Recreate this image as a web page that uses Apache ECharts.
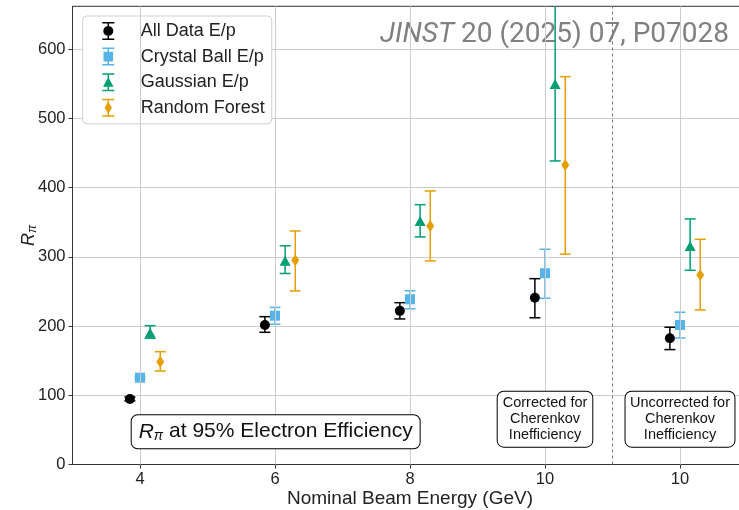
<!DOCTYPE html>
<html>
<head>
<meta charset="utf-8">
<script src="https://cdn.jsdelivr.net/npm/echarts@6/dist/echarts.min.js"></script>
<style>
  html, body { margin: 0; padding: 0; background: #fff; width: 739px; height: 510px; overflow: hidden; }
  #chart { width: 739px; height: 510px; overflow: hidden; position: relative; }
</style>
</head>
<body>
<div id="chart"></div>
<script>
// Beam energy groups (the last group is the 10 GeV run without the Cherenkov correction)
const groupPositions = [4, 6, 8, 10, 12];
const groupLabels = ['4', '6', '8', '10', '10'];

// Pion rejection R_pi at 95% electron efficiency: central value, lower and upper error-bar ends
const allDataVal = [94.7, 201.6, 222.0, 241.0, 182.4];
const allDataLo  = [92.0, 191.0, 210.3, 212.0, 166.0];
const allDataHi  = [97.5, 213.6, 233.8, 268.5, 198.3];

const crystalVal = [125.4, 215.0, 238.7, 276.3, 201.6];
const crystalLo  = [123.8, 202.6, 225.0, 240.2, 182.8];
const crystalHi  = [127.0, 227.0, 251.0, 311.0, 220.0];

const gaussVal = [190.5, 294.5, 351.9, 549.9, 315.8];
const gaussLo  = [182.4, 276.0, 328.8, 438.6, 280.6];
const gaussHi  = [200.6, 316.0, 375.4, 663.0, 354.8];

const forestVal = [148.6, 295.0, 344.7, 432.8, 273.8];
const forestLo  = [135.0, 250.7, 294.1, 304.0, 223.3];
const forestHi  = [163.0, 337.4, 395.2, 560.4, 325.4];

const yTicks = [0, 100, 200, 300, 400, 500, 600];

const methods = [
  { name: 'All Data E/p',       color: '#000000', symbol: 'circle',   size: 10,      offset: -0.15, val: allDataVal, lo: allDataLo, hi: allDataHi },
  { name: 'Crystal Ball E/p',   color: '#56B4E9', symbol: 'rect',     size: 10,      offset: 0.0,   val: crystalVal, lo: crystalLo, hi: crystalHi },
  { name: 'Gaussian E/p',       color: '#009E73', symbol: 'triangle', size: [11, 10], offset: 0.15, val: gaussVal,   lo: gaussLo,   hi: gaussHi },
  { name: 'Random Forest',      color: '#E69F00', symbol: 'diamond',  size: [8, 12],  offset: 0.3,  val: forestVal,  lo: forestLo,  hi: forestHi }
];

// Legend glyphs: error bar with caps plus the marker, all drawn clockwise
const barPath = 'M8.25 0 H9.75 V18 H8.25 Z M3 0 H15 V1.5 H3 Z M3 16.5 H15 V18 H3 Z ';
const legendIcons = [
  'path://' + barPath + 'M4 9 A5 5 0 1 1 14 9 A5 5 0 1 1 4 9 Z',
  'path://' + barPath + 'M4.2 4.2 H13.8 V13.8 H4.2 Z',
  'path://' + barPath + 'M9 3.8 L14.2 13.5 L3.8 13.5 Z',
  'path://' + barPath + 'M9 2.8 L12.6 9 L9 15.2 L5.4 9 Z'
];

const FONT = '"Liberation Sans", Arial, sans-serif';

function errorBarItem(color) {
  return function (params, api) {
    const x = api.value(0), lo = api.value(1), hi = api.value(2);
    const pLo = api.coord([x, lo]);
    const pHi = api.coord([x, hi]);
    const cs = params.coordSys;
    const top = cs.y;
    const capHalf = 5.5;
    const style = { stroke: color, lineWidth: 1.5 };
    const yTop = Math.max(pHi[1], top);
    const children = [
      { type: 'line', shape: { x1: pLo[0], y1: pLo[1], x2: pLo[0], y2: yTop }, style: style },
      { type: 'line', shape: { x1: pLo[0] - capHalf, y1: pLo[1], x2: pLo[0] + capHalf, y2: pLo[1] }, style: style }
    ];
    if (pHi[1] >= top) {
      children.push({ type: 'line', shape: { x1: pHi[0] - capHalf, y1: pHi[1], x2: pHi[0] + capHalf, y2: pHi[1] }, style: style });
    }
    return { type: 'group', children: children };
  };
}

const series = [];
// vertical grid lines at the energy groups and the dashed divider between corrected / uncorrected
series.push({
  type: 'line', data: [], z: 1, silent: true,
  markLine: {
    silent: true, symbol: 'none', animation: false, label: { show: false },
    data: groupPositions.map(p => ({ xAxis: p, lineStyle: { color: '#cccccc', width: 1, type: 'solid' } }))
      .concat([{ xAxis: 11, lineStyle: { color: '#777777', width: 1, type: [3, 3] } }])
  }
});
methods.forEach(m => {
  series.push({
    name: m.name, type: 'scatter', z: 4,
    symbol: m.symbol, symbolSize: m.size,
    itemStyle: { color: m.color, opacity: 1 },
    data: m.val.map((v, i) => [groupPositions[i] + m.offset, v]),
    animation: false
  });
});
methods.forEach(m => {
  series.push({
    name: m.name, type: 'custom', z: 3,
    renderItem: errorBarItem(m.color),
    encode: { x: 0, y: [1, 2] },
    data: m.val.map((v, i) => [groupPositions[i] + m.offset, m.lo[i], m.hi[i]]),
    animation: false
  });
});

const chart = echarts.init(document.getElementById('chart'), null, { renderer: 'canvas', width: 739, height: 510 });
chart.setOption({
  animation: false,
  backgroundColor: '#ffffff',
  grid: {
    left: 72.5, top: 6.3, width: 675, height: 458.2,
    outerBoundsMode: 'none', containLabel: false,
    show: true, borderColor: '#333333', borderWidth: 1, backgroundColor: 'transparent'
  },
  xAxis: {
    type: 'value', min: 3, max: 13,
    name: 'Nominal Beam Energy (GeV)', nameLocation: 'middle', nameGap: 24.5, nameMoveOverlap: false,
    nameTextStyle: { fontFamily: FONT, fontSize: 19, color: '#222' },
    axisLine: { show: true, onZero: false, lineStyle: { color: '#333333', width: 1 } },
    axisTick: { show: true, length: 4, customValues: groupPositions, lineStyle: { color: '#333333' } },
    axisLabel: {
      customValues: groupPositions, margin: 6,
      fontFamily: FONT, fontSize: 16.5, color: '#222',
      formatter: v => groupLabels[groupPositions.indexOf(v)]
    },
    splitLine: { show: false }
  },
  yAxis: {
    type: 'value', min: 0, max: 662, interval: 100,
    name: '{r|R}{s|π}', nameLocation: 'middle', nameGap: 34, nameRotate: 90, nameMoveOverlap: false,
    nameTextStyle: {
      rich: {
        r: { fontFamily: FONT, fontStyle: 'italic', fontSize: 18, color: '#222', lineHeight: 20 },
        s: { fontFamily: FONT, fontStyle: 'italic', fontSize: 12, color: '#222', verticalAlign: 'bottom', lineHeight: 14 }
      }
    },
    axisLine: { show: true, lineStyle: { color: '#333333', width: 1 } },
    axisTick: { show: true, length: 4, customValues: yTicks, lineStyle: { color: '#333333' } },
    axisLabel: { customValues: yTicks, margin: 7, fontFamily: FONT, fontSize: 16.5, color: '#222' },
    splitLine: { show: true, lineStyle: { color: '#cccccc', width: 1 } }
  },
  legend: {
    orient: 'vertical', left: 82.7, top: 16,
    padding: [6, 7, 7, 19.6], itemGap: 7.6,
    itemWidth: 12, itemHeight: 18,
    backgroundColor: '#ffffff', borderColor: '#d0d0d0', borderWidth: 1, borderRadius: 4,
    selectedMode: false,
    textStyle: { fontFamily: FONT, fontSize: 18, color: '#222', padding: [0, 0, 0, 21.4] },
    data: methods.map((m, i) => ({ name: m.name, icon: legendIcons[i] }))
  },
  series: series
});

// Annotation boxes anchored in data coordinates
const toPx = (x, y) => chart.convertToPixel({ xAxisIndex: 0, yAxisIndex: 0 }, [x, y]);
const effPos = toPx(6.01, 47.4);
const corrPos = toPx(10, 65.5);
const uncorrPos = toPx(12, 65.5);
const boxStyle = {
  backgroundColor: '#ffffff', borderColor: '#000000', borderWidth: 1, borderRadius: 6,
  align: 'center', verticalAlign: 'middle', fill: '#111'
};

chart.setOption({
  graphic: [
    {
      type: 'text', z: 0, x: 729, y: 34.5,
      style: {
        text: '{i|JINST} 20 (2025) 07, P07028',
        align: 'right', verticalAlign: 'middle',
        font: '28px Roboto', fill: '#808080',
        rich: { i: { fontFamily: 'Roboto', fontSize: 28, fontStyle: 'italic', color: '#808080' } }
      }
    },
    {
      type: 'text', z: 20, x: effPos[0], y: effPos[1],
      style: Object.assign({}, boxStyle, {
        text: '{r|R}{s|π}{t| at 95% Electron Efficiency}',
        padding: [5, 7, 5, 7],
        rich: {
          r: { fontFamily: FONT, fontStyle: 'italic', fontSize: 21, color: '#111', lineHeight: 23 },
          s: { fontFamily: FONT, fontStyle: 'italic', fontSize: 14, color: '#111', verticalAlign: 'bottom', lineHeight: 18 },
          t: { fontFamily: FONT, fontSize: 21, color: '#111', lineHeight: 23 }
        }
      })
    },
    {
      type: 'text', z: 20, x: corrPos[0], y: corrPos[1],
      style: Object.assign({}, boxStyle, {
        text: 'Corrected for\nCherenkov\nInefficiency',
        font: '14.5px ' + FONT, lineHeight: 16, padding: [3.5, 5, 3.5, 5]
      })
    },
    {
      type: 'text', z: 20, x: uncorrPos[0], y: uncorrPos[1],
      style: Object.assign({}, boxStyle, {
        text: 'Uncorrected for\nCherenkov\nInefficiency',
        font: '14.5px ' + FONT, lineHeight: 16, padding: [3.5, 4.5, 3.5, 4.5]
      })
    }
  ]
});
</script>
</body>
</html>
